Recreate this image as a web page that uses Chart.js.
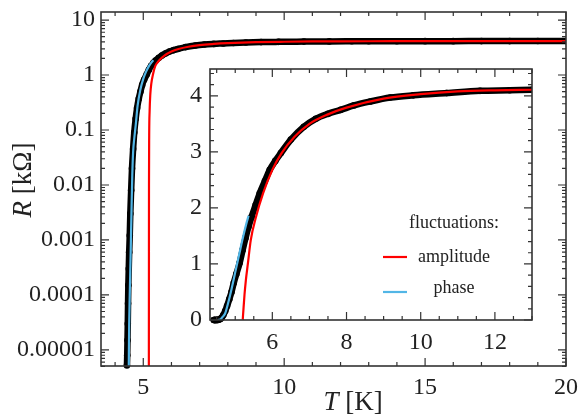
<!DOCTYPE html>
<html>
<head>
<meta charset="utf-8">
<script src="https://cdn.jsdelivr.net/npm/chart.js@4.4.1/dist/chart.umd.min.js"></script>
<style>
  html, body { margin: 0; padding: 0; background: #fff; }
  #wrap { position: relative; width: 580px; height: 416px; }
  #main { position: absolute; left: 0; top: 0; }
  #inset { position: absolute; left: 150px; top: 55px; }
</style>
</head>
<body>
<div id="wrap">
  <canvas id="main" width="580" height="416"></canvas>
  <canvas id="inset" width="400" height="310"></canvas>
</div>
<script>
// measured R(T), T in K, R in kOhm
var dataT = [4.42, 4.43, 4.44, 4.45, 4.46, 4.47, 4.485, 4.50, 4.52, 4.54, 4.57, 4.60, 4.64, 4.68, 4.73, 4.78, 4.84, 4.90, 4.96, 5.03,
             5.12, 5.20, 5.28, 5.36, 5.44, 5.55, 5.66, 5.80, 5.93, 6.08, 6.23, 6.50, 6.85, 7.17, 7.50, 7.84, 8.20, 8.64, 9.18, 9.80,
             10.7, 11.6, 12.4, 13.0, 14, 15, 16, 17, 18, 19, 20];
var dataR = [5.2e-6, 8e-6, 1.5e-5, 3e-5, 7e-5, 1.5e-4, 3e-4, 6e-4, 1.2e-3, 3e-3, 8e-3, 0.02, 0.045, 0.09, 0.16, 0.25, 0.37, 0.5, 0.66, 0.82,
             1.02, 1.25, 1.47, 1.67, 1.84, 2.05, 2.26, 2.48, 2.68, 2.84, 2.98, 3.22, 3.45, 3.59, 3.68, 3.75, 3.83, 3.90, 3.97, 4.01,
             4.05, 4.09, 4.10, 4.11, 4.12, 4.13, 4.13, 4.14, 4.14, 4.15, 4.15];

// amplitude fluctuations fit (red)
var ampT = [5.195, 5.2, 5.203, 5.21, 5.225, 5.25, 5.285, 5.34, 5.42, 5.56, 5.75, 6.0, 6.25, 6.6, 7.0, 7.5, 8.0, 9.0, 10.0, 11.0, 12.0, 13.0, 15, 17, 20];
var ampR = [1e-7, 1e-4, 0.01, 0.08, 0.22, 0.45, 0.7, 1.0, 1.43, 1.84, 2.26, 2.68, 2.98, 3.27, 3.5, 3.67, 3.79, 3.95, 4.03, 4.08, 4.10, 4.11, 4.13, 4.14, 4.15];

// phase fluctuations fit (blue)
var phaseT = [4.485, 4.49, 4.50, 4.52, 4.55, 4.58, 4.61, 4.64, 4.68, 4.73, 4.80, 4.90, 5.00, 5.10, 5.20, 5.30, 5.36];
var phaseR = [4e-6, 1e-5, 3e-5, 1e-4, 5e-4, 3e-3, 0.015, 0.04, 0.07, 0.12, 0.28, 0.55, 0.85, 1.15, 1.45, 1.72, 1.86];

var mainXTicks = [5, 10, 15, 20];
var mainYTicks = [0.00001, 0.0001, 0.001, 0.01, 0.1, 1, 10];
var insetXTicks = [6, 8, 10, 12];
var insetYTicks = [0, 1, 2, 3, 4];
var legendTitle = 'fluctuations:';
var legendLabels = ['amplitude', 'phase'];

var RED = '#ff0000', BLUE = '#52b6e6', INK = '#222';
var SERIF = '"Liberation Serif", "DejaVu Serif", serif';
var tickFont = { family: SERIF, size: 24 };

function pts(xs, ys) {
    return xs.map(function (x, i) { return { x: x, y: ys[i] }; });
}

function makeDatasets(bottomClip) {
    return [
        { label: 'amplitude', data: pts(ampT, ampR), borderColor: RED, borderWidth: 2.2,
          pointRadius: 0, showLine: true, cubicInterpolationMode: 'monotone', order: 0,
          clip: { left: 0, top: 0, right: 0, bottom: 0 } },
        { label: 'phase', data: pts(phaseT, phaseR), borderColor: BLUE, borderWidth: 2.2,
          pointRadius: 0, showLine: true, cubicInterpolationMode: 'monotone', order: 1,
          clip: { left: 0, top: 0, right: 0, bottom: 0 } },
        { label: 'data', data: pts(dataT, dataR), borderColor: '#000', backgroundColor: '#000',
          borderWidth: 6.5, pointRadius: 3.3, pointBorderWidth: 0, showLine: true,
          cubicInterpolationMode: 'monotone', order: 2,
          clip: { left: 0, top: 0, right: 0, bottom: bottomClip } }
    ];
}

// frame + inward ticks on all four sides
function frameTicks(majX, minX, majY, minY) {
    return {
        id: 'frameTicks',
        afterDraw: function (chart) {
            var ctx = chart.ctx, a = chart.chartArea;
            var xs = chart.scales.x, ys = chart.scales.y;
            ctx.save();
            ctx.strokeStyle = '#333';
            ctx.lineWidth = 1.2;
            function tx(v, len) {
                var p = xs.getPixelForValue(v);
                if (p < a.left - 0.5 || p > a.right + 0.5) return;
                ctx.beginPath();
                ctx.moveTo(p, a.bottom); ctx.lineTo(p, a.bottom - len);
                ctx.moveTo(p, a.top); ctx.lineTo(p, a.top + len);
                ctx.stroke();
            }
            function ty(v, len) {
                var p = ys.getPixelForValue(v);
                if (p < a.top - 0.5 || p > a.bottom + 0.5) return;
                ctx.beginPath();
                ctx.moveTo(a.left, p); ctx.lineTo(a.left + len, p);
                ctx.moveTo(a.right, p); ctx.lineTo(a.right - len, p);
                ctx.stroke();
            }
            majX.forEach(function (v) { tx(v, 8); });
            minX.forEach(function (v) { tx(v, 4); });
            majY.forEach(function (v) { ty(v, 8); });
            minY.forEach(function (v) { ty(v, 4); });
            ctx.lineWidth = 1.6;
            ctx.strokeRect(a.left, a.top, a.right - a.left, a.bottom - a.top);
            ctx.restore();
        }
    };
}

// minor tick positions
var mainXMinor = [];
for (var i = 4; i < 20; i++) if (i % 5 !== 0) mainXMinor.push(i);
var mainYMinor = [];
for (var e = -6; e <= 1; e++) for (var k = 2; k <= 9; k++) mainYMinor.push(k * Math.pow(10, e));
var insetXMinor = [];
for (var j = 9; j <= 26; j++) if (j % 4 !== 0) insetXMinor.push(j / 2);
var insetYMinor = [];
for (var m = 1; m <= 22; m++) if (m % 5 !== 0) insetYMinor.push(m / 5);

// mixed italic / upright axis titles
function drawMixed(ctx, parts, cx, cy) {
    var total = 0;
    parts.forEach(function (p) { ctx.font = p[1]; total += ctx.measureText(p[0]).width; });
    var x = cx - total / 2;
    parts.forEach(function (p) {
        ctx.font = p[1];
        ctx.fillText(p[0], x, cy);
        x += ctx.measureText(p[0]).width;
    });
}

var axisTitles = {
    id: 'axisTitles',
    afterDraw: function (chart) {
        var ctx = chart.ctx;
        ctx.save();
        ctx.fillStyle = INK;
        ctx.textBaseline = 'alphabetic';
        ctx.textAlign = 'left';
        drawMixed(ctx, [['T', 'italic 27px ' + SERIF], [' [K]', '27px ' + SERIF]], 353, 410);
        ctx.translate(31, 180);
        ctx.rotate(-Math.PI / 2);
        drawMixed(ctx, [['R', 'italic 27px ' + SERIF], [' [kΩ]', '27px ' + SERIF]], 0, 0);
        ctx.restore();
    }
};

var insetBg = {
    id: 'insetBg',
    beforeDraw: function (chart) {
        var a = chart.chartArea, ctx = chart.ctx;
        ctx.save();
        ctx.fillStyle = '#fff';
        ctx.fillRect(a.left, a.top, a.right - a.left, a.bottom - a.top);
        ctx.restore();
    }
};

var insetLegend = {
    id: 'insetLegend',
    afterDraw: function (chart) {
        var a = chart.chartArea, ctx = chart.ctx;
        var cx = a.right - 78;
        ctx.save();
        ctx.fillStyle = INK;
        ctx.font = '18px ' + SERIF;
        ctx.textAlign = 'center';
        ctx.textBaseline = 'alphabetic';
        ctx.fillText(legendTitle, cx, a.bottom - 92);
        ctx.fillText(legendLabels[0], cx, a.bottom - 58);
        ctx.fillText(legendLabels[1], cx, a.bottom - 27);
        ctx.lineWidth = 2.2;
        ctx.strokeStyle = RED;
        ctx.beginPath(); ctx.moveTo(a.right - 149, a.bottom - 63); ctx.lineTo(a.right - 125, a.bottom - 63); ctx.stroke();
        ctx.strokeStyle = BLUE;
        ctx.beginPath(); ctx.moveTo(a.right - 149, a.bottom - 28); ctx.lineTo(a.right - 125, a.bottom - 28); ctx.stroke();
        ctx.restore();
    }
};

function fmt(v) { return String(v); }
function noPadX(h) { return function (s) { s.height = h; s.paddingLeft = 0; s.paddingRight = 0; }; }
function noPadY(w) { return function (s) { s.width = w; s.paddingTop = 0; s.paddingBottom = 0; }; }

new Chart('main', {
    type: 'scatter',
    data: { datasets: makeDatasets(3) },
    options: {
        responsive: false,
        animation: false,
        devicePixelRatio: 1,
        plugins: { legend: { display: false }, tooltip: { enabled: false } },
        layout: { padding: { top: 12, right: 14, left: 0, bottom: 0 } },
        scales: {
            x: {
                type: 'linear', min: 3.5, max: 20,
                grid: { display: false, drawTicks: false }, border: { display: false },
                afterBuildTicks: function (s) { s.ticks = mainXTicks.map(function (v) { return { value: v }; }); },
                afterFit: noPadX(50),
                ticks: { padding: 7, font: tickFont, color: INK, maxRotation: 0, autoSkip: false, callback: fmt }
            },
            y: {
                type: 'logarithmic', min: 5.1e-6, max: 14,
                grid: { display: false, drawTicks: false }, border: { display: false },
                afterBuildTicks: function (s) { s.ticks = mainYTicks.map(function (v) { return { value: v }; }); },
                afterFit: noPadY(101),
                ticks: { padding: 6, font: tickFont, color: INK, autoSkip: false, callback: fmt }
            }
        }
    },
    plugins: [frameTicks(mainXTicks, mainXMinor, mainYTicks, mainYMinor), axisTitles]
});

new Chart('inset', {
    type: 'scatter',
    data: { datasets: makeDatasets(4) },
    options: {
        responsive: false,
        animation: false,
        devicePixelRatio: 1,
        plugins: { legend: { display: false }, tooltip: { enabled: false } },
        layout: { padding: { top: 14, right: 18, left: 0, bottom: 0 } },
        scales: {
            x: {
                type: 'linear', min: 4.32, max: 13.0,
                grid: { display: false, drawTicks: false }, border: { display: false },
                afterBuildTicks: function (s) { s.ticks = insetXTicks.map(function (v) { return { value: v }; }); },
                afterFit: noPadX(45),
                ticks: { padding: 8, font: tickFont, color: INK, maxRotation: 0, autoSkip: false, callback: fmt }
            },
            y: {
                type: 'linear', min: 0, max: 4.48,
                grid: { display: false, drawTicks: false }, border: { display: false },
                afterBuildTicks: function (s) { s.ticks = insetYTicks.map(function (v) { return { value: v }; }); },
                afterFit: noPadY(60),
                ticks: { padding: 8, font: tickFont, color: INK, autoSkip: false, callback: fmt }
            }
        }
    },
    plugins: [insetBg, frameTicks(insetXTicks, insetXMinor, insetYTicks, insetYMinor), insetLegend]
});
</script>
</body>
</html>
